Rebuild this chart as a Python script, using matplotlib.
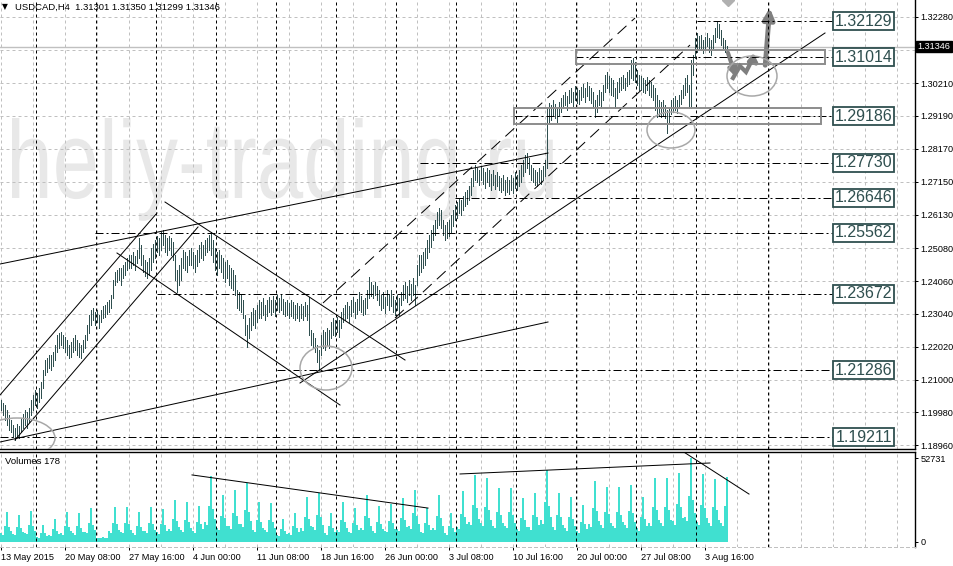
import matplotlib
matplotlib.use('Agg')
import matplotlib.pyplot as plt
from matplotlib.patches import Rectangle, Ellipse, PathPatch
from matplotlib.textpath import TextPath
from matplotlib.font_manager import FontProperties
from matplotlib.transforms import Affine2D, blended_transform_factory
import numpy as np

plt.rcParams['font.family'] = ['Liberation Sans', 'DejaVu Sans']
plt.rcParams['lines.scale_dashes'] = False

PX = 0.72  # one screen pixel in points (dpi 100)

# ---------------- data (USDCAD H4, one value per bar) ----------------
highs = [
    1.2036, 1.2027, 1.2020, 1.2005, 1.1989, 1.1974, 1.1958, 1.1949, 1.1961, 1.1955,
    1.1980, 1.1992, 1.2005, 1.1999, 1.2011, 1.2036, 1.2052, 1.2067, 1.2058, 1.2073,
    1.2092, 1.2129, 1.2160, 1.2167, 1.2176, 1.2176, 1.2185, 1.2207, 1.2238, 1.2244,
    1.2247, 1.2238, 1.2232, 1.2223, 1.2207, 1.2216, 1.2229, 1.2238, 1.2223, 1.2213,
    1.2207, 1.2223, 1.2238, 1.2269, 1.2300, 1.2316, 1.2322, 1.2310, 1.2316, 1.2300,
    1.2316, 1.2328, 1.2331, 1.2341, 1.2347, 1.2363, 1.2409, 1.2434, 1.2440, 1.2447,
    1.2447, 1.2456, 1.2465, 1.2478, 1.2487, 1.2487, 1.2496, 1.2484, 1.2502, 1.2540,
    1.2518, 1.2487, 1.2471, 1.2465, 1.2478, 1.2509, 1.2521, 1.2534, 1.2546, 1.2540,
    1.2558, 1.2565, 1.2549, 1.2540, 1.2546, 1.2540, 1.2527, 1.2487, 1.2440, 1.2456,
    1.2478, 1.2502, 1.2496, 1.2484, 1.2502, 1.2509, 1.2496, 1.2487, 1.2502, 1.2518,
    1.2527, 1.2518, 1.2534, 1.2540, 1.2549, 1.2558, 1.2534, 1.2509, 1.2496, 1.2502,
    1.2487, 1.2478, 1.2465, 1.2471, 1.2456, 1.2447, 1.2440, 1.2425, 1.2378, 1.2372,
    1.2363, 1.2347, 1.2300, 1.2269, 1.2291, 1.2310, 1.2322, 1.2316, 1.2331, 1.2347,
    1.2341, 1.2353, 1.2331, 1.2347, 1.2356, 1.2347, 1.2359, 1.2347, 1.2363, 1.2353,
    1.2363, 1.2350, 1.2341, 1.2347, 1.2338, 1.2347, 1.2341, 1.2331, 1.2338, 1.2328,
    1.2335, 1.2328, 1.2341, 1.2331, 1.2356, 1.2254, 1.2244, 1.2229, 1.2207, 1.2192,
    1.2238, 1.2254, 1.2247, 1.2260, 1.2254, 1.2279, 1.2291, 1.2285, 1.2294, 1.2285,
    1.2310, 1.2322, 1.2331, 1.2341, 1.2328, 1.2347, 1.2356, 1.2341, 1.2350, 1.2372,
    1.2359, 1.2347, 1.2353, 1.2378, 1.2419, 1.2403, 1.2394, 1.2403, 1.2391, 1.2378,
    1.2363, 1.2372, 1.2356, 1.2378, 1.2366, 1.2378, 1.2359, 1.2347, 1.2363, 1.2353,
    1.2372, 1.2394, 1.2403, 1.2391, 1.2409, 1.2397, 1.2415, 1.2394, 1.2456, 1.2487,
    1.2487, 1.2496, 1.2509, 1.2534, 1.2549, 1.2565, 1.2580, 1.2596, 1.2621, 1.2633,
    1.2627, 1.2596, 1.2580, 1.2590, 1.2596, 1.2611, 1.2627, 1.2642, 1.2652, 1.2664,
    1.2658, 1.2670, 1.2683, 1.2689, 1.2702, 1.2726, 1.2751, 1.2767, 1.2758, 1.2751,
    1.2764, 1.2758, 1.2745, 1.2758, 1.2751, 1.2739, 1.2751, 1.2736, 1.2745, 1.2733,
    1.2726, 1.2736, 1.2720, 1.2730, 1.2720, 1.2736, 1.2726, 1.2745, 1.2736, 1.2751,
    1.2767, 1.2782, 1.2798, 1.2804, 1.2789, 1.2767, 1.2758, 1.2751, 1.2745, 1.2758,
    1.2751, 1.2764, 1.2782, 1.2944, 1.2960, 1.2953, 1.2969, 1.2957, 1.2944, 1.2963,
    1.2975, 1.2985, 1.2994, 1.2981, 1.3000, 1.3006, 1.2994, 1.3013, 1.3006, 1.3000,
    1.3009, 1.3019, 1.3006, 1.3025, 1.3013, 1.3006, 1.2994, 1.2969, 1.2985, 1.3000,
    1.2994, 1.3016, 1.3047, 1.3056, 1.3044, 1.3037, 1.3031, 1.3006, 1.3025, 1.3037,
    1.3041, 1.3047, 1.3037, 1.3056, 1.3062, 1.3093, 1.3100, 1.3087, 1.3062, 1.3047,
    1.3044, 1.3037, 1.3031, 1.3041, 1.3031, 1.3025, 1.3016, 1.3006, 1.2985, 1.2969,
    1.2963, 1.2969, 1.2953, 1.2938, 1.2944, 1.2969, 1.2975, 1.2981, 1.2969, 1.2985,
    1.3000, 1.3016, 1.3037, 1.3047, 1.3016, 1.3093, 1.3109, 1.3162, 1.3177, 1.3168,
    1.3171, 1.3156, 1.3165, 1.3177, 1.3162, 1.3156, 1.3171, 1.3193, 1.3213, 1.3205,
    1.3187, 1.3162, 1.3156, 1.3135,
]
lows = [
    1.2005, 1.1989, 1.1974, 1.1958, 1.1943, 1.1936, 1.1921, 1.1912, 1.1924, 1.1918,
    1.1936, 1.1949, 1.1958, 1.1949, 1.1968, 1.1989, 1.2005, 1.2020, 1.2011, 1.2030,
    1.2042, 1.2073, 1.2114, 1.2123, 1.2136, 1.2129, 1.2142, 1.2160, 1.2185, 1.2198,
    1.2207, 1.2198, 1.2185, 1.2176, 1.2167, 1.2170, 1.2185, 1.2192, 1.2176, 1.2170,
    1.2167, 1.2185, 1.2198, 1.2223, 1.2244, 1.2269, 1.2285, 1.2269, 1.2279, 1.2260,
    1.2279, 1.2291, 1.2294, 1.2303, 1.2310, 1.2322, 1.2353, 1.2394, 1.2403, 1.2409,
    1.2394, 1.2415, 1.2425, 1.2440, 1.2447, 1.2447, 1.2456, 1.2440, 1.2462, 1.2478,
    1.2456, 1.2434, 1.2422, 1.2415, 1.2425, 1.2440, 1.2465, 1.2478, 1.2496, 1.2487,
    1.2502, 1.2518, 1.2496, 1.2487, 1.2502, 1.2487, 1.2471, 1.2409, 1.2372, 1.2394,
    1.2409, 1.2447, 1.2440, 1.2434, 1.2456, 1.2456, 1.2447, 1.2434, 1.2453, 1.2465,
    1.2478, 1.2471, 1.2487, 1.2496, 1.2502, 1.2487, 1.2465, 1.2440, 1.2425, 1.2447,
    1.2434, 1.2415, 1.2403, 1.2415, 1.2394, 1.2384, 1.2378, 1.2363, 1.2322, 1.2316,
    1.2310, 1.2291, 1.2238, 1.2201, 1.2229, 1.2254, 1.2269, 1.2260, 1.2279, 1.2291,
    1.2291, 1.2300, 1.2285, 1.2297, 1.2310, 1.2300, 1.2310, 1.2297, 1.2316, 1.2310,
    1.2316, 1.2303, 1.2297, 1.2300, 1.2291, 1.2297, 1.2291, 1.2285, 1.2291, 1.2282,
    1.2291, 1.2285, 1.2297, 1.2285, 1.2238, 1.2207, 1.2198, 1.2185, 1.2154, 1.2129,
    1.2176, 1.2198, 1.2192, 1.2207, 1.2198, 1.2229, 1.2238, 1.2235, 1.2247, 1.2232,
    1.2260, 1.2279, 1.2285, 1.2291, 1.2279, 1.2297, 1.2310, 1.2291, 1.2303, 1.2316,
    1.2310, 1.2300, 1.2303, 1.2322, 1.2353, 1.2359, 1.2353, 1.2363, 1.2347, 1.2331,
    1.2316, 1.2322, 1.2307, 1.2331, 1.2316, 1.2328, 1.2310, 1.2300, 1.2316, 1.2300,
    1.2331, 1.2347, 1.2353, 1.2341, 1.2363, 1.2347, 1.2363, 1.2331, 1.2394, 1.2425,
    1.2434, 1.2447, 1.2456, 1.2478, 1.2496, 1.2512, 1.2534, 1.2549, 1.2571, 1.2580,
    1.2571, 1.2549, 1.2534, 1.2540, 1.2546, 1.2558, 1.2577, 1.2596, 1.2602, 1.2618,
    1.2611, 1.2627, 1.2639, 1.2646, 1.2658, 1.2674, 1.2702, 1.2720, 1.2714, 1.2705,
    1.2720, 1.2708, 1.2695, 1.2714, 1.2702, 1.2689, 1.2705, 1.2692, 1.2702, 1.2689,
    1.2683, 1.2689, 1.2674, 1.2683, 1.2677, 1.2689, 1.2680, 1.2695, 1.2689, 1.2702,
    1.2714, 1.2733, 1.2745, 1.2758, 1.2739, 1.2720, 1.2714, 1.2705, 1.2702, 1.2714,
    1.2708, 1.2720, 1.2733, 1.2758, 1.2901, 1.2907, 1.2922, 1.2913, 1.2901, 1.2919,
    1.2932, 1.2944, 1.2953, 1.2938, 1.2960, 1.2963, 1.2950, 1.2969, 1.2960, 1.2957,
    1.2969, 1.2978, 1.2963, 1.2981, 1.2969, 1.2960, 1.2944, 1.2916, 1.2932, 1.2953,
    1.2944, 1.2969, 1.2994, 1.3006, 1.2994, 1.2985, 1.2981, 1.2944, 1.2975, 1.2994,
    1.3000, 1.3006, 1.3000, 1.3013, 1.3019, 1.3037, 1.3031, 1.3025, 1.3016, 1.3000,
    1.3000, 1.2994, 1.2991, 1.3000, 1.2985, 1.2978, 1.2969, 1.2938, 1.2916, 1.2922,
    1.2916, 1.2922, 1.2913, 1.2866, 1.2901, 1.2925, 1.2932, 1.2938, 1.2929, 1.2944,
    1.2957, 1.2975, 1.2985, 1.2994, 1.2944, 1.2944, 1.3047, 1.3100, 1.3118, 1.3125,
    1.3125, 1.3115, 1.3125, 1.3137, 1.3118, 1.3109, 1.3131, 1.3149, 1.3165, 1.3162,
    1.3140, 1.3131, 1.3118, 1.3130,
]
volumes = [
    5600, 4700, 10300, 18800, 9400, 6600,
    5100, 4300, 9400, 17000, 8500, 6000,
    5900, 4900, 10700, 19500, 9800, 6800,
    3200, 2700, 5900, 10700, 5400, 3700,
    4300, 3600, 7900, 14400, 7200, 5000,
    5600, 4700, 10300, 18800, 9400, 6600,
    5500, 4600, 10000, 18200, 9100, 6400,
    6400, 5400, 11800, 21400, 10700, 7500,
    2500, 2200, 2700, 3100, 2600, 2300,
    6600, 5500, 12100, 22000, 11000, 7700,
    6500, 5500, 12000, 21900, 11000, 7700,
    5600, 4700, 10300, 18800, 9400, 6600,
    6600, 5500, 12100, 22000, 11000, 7700,
    6200, 5200, 11400, 20700, 10400, 7200,
    7900, 6600, 14500, 26400, 13200, 9200,
    7500, 6300, 13800, 25100, 12600, 8800,
    6800, 5700, 12400, 22600, 11300, 7900,
    12400, 10400, 22800, 41400, 20700, 14500,
    8900, 7400, 16200, 29500, 14800, 10300,
    9800, 8200, 18000, 32700, 16400, 11400,
    11100, 9300, 20400, 37100, 18600, 13000,
    7500, 6300, 13800, 25100, 12600, 8800,
    7400, 6100, 13500, 24500, 12300, 8600,
    4300, 3600, 7900, 14400, 7200, 5000,
    5500, 4600, 10000, 18200, 9100, 6400,
    8500, 7100, 15600, 28300, 14200, 9900,
    9200, 7700, 16900, 30800, 15400, 10800,
    5500, 4600, 10000, 18200, 9100, 6400,
    7500, 6300, 13800, 25100, 12600, 8800,
    6400, 5400, 11800, 21400, 10700, 7500,
    8900, 7400, 16200, 29500, 14800, 10300,
    6800, 5700, 12400, 22600, 11300, 7900,
    7200, 6000, 13100, 23900, 12000, 8400,
    8300, 6900, 15200, 27600, 13800, 9700,
    9800, 8200, 18000, 32700, 16400, 11400,
    6400, 5400, 11800, 21400, 10700, 7500,
    8900, 7400, 16200, 29500, 14800, 10300,
    5500, 4600, 10000, 18200, 9100, 6400,
    9600, 8000, 17600, 32000, 16000, 11200,
    12600, 10500, 23200, 42100, 21100, 14700,
    12100, 10100, 22100, 40200, 20100, 14100,
    10200, 8500, 18600, 33900, 17000, 11900,
    10000, 8700, 18800, 33900, 16800, 11700,
    8300, 6900, 15200, 27600, 13800, 9700,
    9200, 7700, 16900, 30800, 15400, 10800,
    13600, 11300, 24900, 45200, 22600, 15800,
    9200, 7700, 16900, 30800, 15400, 10800,
    8500, 7100, 15600, 28300, 14200, 9900,
    7000, 5800, 12800, 23200, 11600, 8100,
    11500, 9600, 21100, 38300, 19200, 13400,
    10400, 8600, 19000, 34500, 17300, 12100,
    10200, 8800, 18800, 34500, 17100, 12300,
    10700, 9000, 19700, 35800, 17900, 12500,
    8500, 7100, 15600, 28300, 14200, 9900,
    12100, 10100, 22100, 40200, 20100, 14100,
    11900, 10300, 21900, 40200, 20300, 13900,
    13000, 10800, 23800, 43300, 21700, 15200,
    15800, 13200, 29000, 52731, 26400, 18500,
    12800, 10700, 23500, 42700, 21400, 14900,
    11900, 9900, 21800, 39600, 19800, 13900,
    12200, 10200, 22400, 40800,
]

date_ticks = [0, 32, 64, 96, 128, 160, 192, 224, 256, 288, 320, 352]
date_labels = ['13 May 2015', '20 May 08:00', '27 May 16:00', '4 Jun 00:00',
               '11 Jun 08:00', '18 Jun 16:00', '26 Jun 00:00', '3 Jul 08:00',
               '10 Jul 16:00', '20 Jul 00:00', '27 Jul 08:00', '3 Aug 16:00']
price_ticks = [1.32280, 1.31250, 1.30210, 1.29190, 1.28170, 1.27150, 1.26130,
               1.25080, 1.24060, 1.23040, 1.22020, 1.21000, 1.19980, 1.18960]
week_starts = [17.5, 47.5, 77.5, 107.5, 137.5, 167.5, 197.5, 227.5, 257.5,
               287.5, 317.5, 347.5, 383.5]
last_price = 1.31346
header = 'USDCAD,H4  1.31301 1.31350 1.31299 1.31346'

# horizontal levels and the bar they are drawn from
levels = [1.32129, 1.31014, 1.29186, 1.27730, 1.26646, 1.25562, 1.23672, 1.21286, 1.19211]
level_from = [348, 287, 256.5, 209.5, 227, 47, 78, 138, -0.5]

# trend lines: (bar, price) -> (bar, price)
solid_lines = [
    ((-0.5, 1.24592), (273.5, 1.28040)),
    ((-0.5, 1.19063), (273.5, 1.22791)),
    ((-0.5, 1.20523), (78, 1.26177)),
    ((7, 1.19125), (98.5, 1.25742)),
    ((82, 1.26518), (202, 1.21610)),
    ((58, 1.24934), (169.5, 1.20212)),
    ((149.5, 1.20896), (412, 1.31768)),
]
dashed_lines = [
    ((161, 1.23381), (317, 1.32234)),
    ((197, 1.22915), (344.5, 1.31395)),
]
boxes = [((256.5, 1.28941), (410, 1.29438)), ((287.5, 1.30805), (412, 1.31240))]
circles = [(8, 1.19187, 38, 0.01243), (162.5, 1.21362, 26, 0.01367),
           (335, 1.28755, 24, 0.01118), (375.5, 1.30432, 25, 0.01243)]
zigzag = [(366, 1.30370), (369.5, 1.30743), (372.5, 1.30557), (375.5, 1.30929), (380.5, 1.30681)]
vol_lines = [((95.5, 42100), (213.5, 21300)), ((229.5, 42700), (354.5, 49600)),
             ((342, 56000), (374, 30100))]

# ---------------- figure ----------------
W, H = 954, 566
fig = plt.figure(figsize=(W / 100, H / 100), dpi=100, facecolor='white')
ax = fig.add_axes([0, 117 / H, 915 / W, 449 / H])
axv = fig.add_axes([0, 19 / H, 915 / W, 95 / H])

idx = np.arange(len(highs))
slate = '#2F4F4F'
grid_c = '#c0c0c0'
dot = (3 * PX, 3 * PX)

for a in (ax, axv):
    a.set_xlim(-0.5, 457)
    for b in range(0, 458, 16):
        a.axvline(b, color=grid_c, lw=PX, dashes=dot, zorder=1)
    for w in week_starts:
        a.axvline(w, color='black', lw=PX, dashes=dot, zorder=4)
    for s in ['left', 'top', 'bottom']:
        a.spines[s].set_visible(False)
    a.spines['right'].set_linewidth(1.0)
    a.yaxis.tick_right()
    a.tick_params(axis='y', length=2.5, width=PX, pad=1.5, labelsize=6.6)

ax.set_ylim(1.18846, 1.32793)
axv.set_ylim(-3139, 56498)
ax.spines['bottom'].set_visible(True)
ax.spines['bottom'].set_linewidth(1.0)
axv.spines['top'].set_visible(True)
axv.spines['top'].set_linewidth(1.0)
axv.spines['bottom'].set_visible(True)
axv.spines['bottom'].set_color(grid_c)
axv.spines['bottom'].set_linewidth(PX)
axv.spines['bottom'].set_linestyle((0, dot))

for p in price_ticks:
    ax.axhline(p, color=grid_c, lw=PX, dashes=dot, zorder=1)
ax.set_yticks(price_ticks)
ax.set_yticklabels(['' if abs(p - 1.3125) < 1e-6 else f'{p:.5f}' for p in price_ticks])
ax.set_xticks([])

# watermark
wm_prop = FontProperties(family='Liberation Sans')
wm = TextPath((0, 0), 'heliy-trading.ru', size=100, prop=wm_prop)
wm_box = wm.get_extents()
h_height = TextPath((0, 0), 'h', size=100, prop=wm_prop).get_extents().height
sx = (553 - 12) / wm_box.width
sy = (198 - 118) / h_height
wm_tr = Affine2D().translate(-wm_box.x0, 0).scale(sx, sy).translate(12, H - 198)
ax.add_patch(PathPatch(wm, transform=wm_tr, fc='#e8e8e8', ec='none', zorder=0.5))

# bars
ax.vlines(idx, lows, highs, colors=slate, lw=PX, antialiased=False, zorder=3)

# current price line
ax.axhline(last_price, color=grid_c, lw=1.0, zorder=2)

# levels with labels
box_left, box_w = 416.25, 30.5
box_h = 18 * 0.00031063
for lv, start in zip(levels, level_from):
    ax.plot([start, box_left], [lv, lv], color='black', lw=PX,
            dashes=(8 * PX, 3 * PX, 2 * PX, 3 * PX), zorder=5)
    ax.add_patch(Rectangle((box_left, lv - box_h / 2), box_w, box_h, fc='white',
                           ec=slate, lw=1.3, zorder=6))
    ax.text(box_left + box_w / 2, lv, f'{lv:.5f}', ha='center', va='center',
            fontsize=11.5, color=slate, zorder=7)

for (x0, y0), (x1, y1) in solid_lines:
    ax.plot([x0, x1], [y0, y1], color='black', lw=PX, zorder=5)
for (x0, y0), (x1, y1) in dashed_lines:
    ax.plot([x0, x1], [y0, y1], color='black', lw=PX, dashes=(12 * PX, 7 * PX), zorder=5)

for (x0, y0), (x1, y1) in boxes:
    ax.add_patch(Rectangle((x0, y0), x1 - x0, y1 - y0, fill=False, ec='#8c8c8c',
                           lw=1.4, zorder=5))
for cx, cy, w, h in circles:
    ax.add_patch(Ellipse((cx, cy), w, h, fill=False, ec='#a8a8a8', lw=1.1, zorder=5))

# forecast arrows
arrow_c = '#7f7f7f'
ax.annotate('', xy=(368, 1.30308), xytext=(363, 1.31240),
            arrowprops=dict(arrowstyle='-|>', color=arrow_c, lw=3, mutation_scale=12))
zx, zy = zip(*zigzag)
ax.plot(zx[:-1], zy[:-1], color=arrow_c, lw=3, solid_joinstyle='miter', zorder=5)
ax.annotate('', xy=zigzag[-1], xytext=zigzag[-2],
            arrowprops=dict(arrowstyle='-|>', color=arrow_c, lw=3, mutation_scale=12))
ax.annotate('', xy=(384.5, 1.32640), xytext=(382, 1.30681),
            arrowprops=dict(arrowstyle='-|>', color=arrow_c, lw=3.5, mutation_scale=16))
ax.plot([363.5], [1.32793], marker='D', ms=6, color='#b0b0b0', zorder=5)

# current price tag
tr = blended_transform_factory(ax.transAxes, ax.transData)
ax.text(1.003, last_price, f'{last_price:.5f}', transform=tr, ha='left', va='center',
        color='white', fontsize=6.6, clip_on=False,
        bbox=dict(boxstyle='square,pad=0.15', fc='black', ec='black'))

# volumes
axv.bar(idx, volumes, width=1.0, color='#40E0D0', lw=0, zorder=2)
for (x0, y0), (x1, y1) in vol_lines:
    axv.plot([x0, x1], [y0, y1], color='black', lw=PX, zorder=5)
axv.set_yticks([0, 52731])
axv.set_yticklabels(['0', '52731'])
axv.set_xticks(date_ticks)
axv.set_xticklabels(date_labels, ha='left')
axv.tick_params(axis='x', length=2.5, width=PX, pad=2, labelsize=6.6)

fig.text(2 / W, 1 - 7 / H, '\u25bc', fontsize=5.5, va='center', ha='left',
         family=['DejaVu Sans'])
fig.text(15 / W, 1 - 7 / H, header, fontsize=6.8, va='center', ha='left')
fig.text(5 / W, 1 - 461 / H, 'Volumes 178', fontsize=6.8, va='center', ha='left')

fig.savefig('out.png', dpi=100, facecolor='white')
